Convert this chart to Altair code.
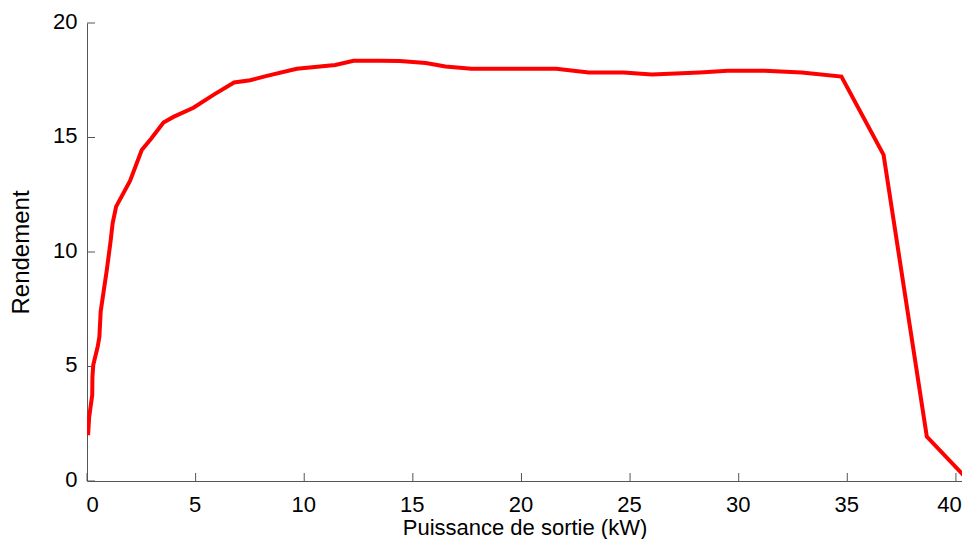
import altair as alt
import pandas as pd

# Data
puissance = [0.05, 0.1, 0.24, 0.25, 0.29, 0.5, 0.57, 0.63, 0.91, 1.09, 1.18, 1.34,
             1.98, 2.52, 2.95, 3.52, 3.98, 4.9, 5.82, 6.77, 7.51, 8.28, 9.66,
             11.43, 12.27, 13.5, 14.4, 15.6, 16.5, 17.7, 21.6, 23.1, 24.7,
             26.0, 28.2, 29.5, 31.2, 32.9, 34.73, 36.67, 38.66, 40.6]
rendement = [2.0, 2.8, 3.75, 4.55, 5.07, 5.9, 6.3, 7.4, 9.2, 10.5, 11.25, 11.98,
             13.1, 14.45, 14.95, 15.65, 15.9, 16.3, 16.86, 17.4, 17.5, 17.69, 18.0,
             18.17, 18.35, 18.35, 18.34, 18.25, 18.1, 18.0, 18.0, 17.84, 17.84,
             17.75, 17.84, 17.92, 17.92, 17.84, 17.66, 14.24, 1.94, 0.0]

x_ticks = [0, 5, 10, 15, 20, 25, 30, 35, 40]
y_ticks = [0, 5, 10, 15, 20]

X_MAX = 40.28
W, H = 875, 458
TICK = 8
AXIS_COLOR = "#555555"
FONT = "Liberation Sans"

df = pd.DataFrame({"x": puissance, "y": rendement})
xt = pd.DataFrame({"v": x_ticks})
yt = pd.DataFrame({"v": y_ticks})

xscale = alt.Scale(domain=[0, X_MAX], nice=False, zero=False)
yscale = alt.Scale(domain=[0, 20], nice=False)

line = alt.Chart(df).mark_line(color="#ff0000", strokeWidth=4, clip=True).encode(
    x=alt.X("x:Q", scale=xscale,
            axis=alt.Axis(title="Puissance de sortie (kW)", values=x_ticks,
                          ticks=False, grid=False, labelPadding=13,
                          labelOffset={"condition": {"test": "datum.value == 40", "value": -7},
                                       "value": -1},
                          titlePadding=2, titleFontSize=22)),
    y=alt.Y("y:Q", scale=yscale,
            axis=alt.Axis(title="Rendement", values=y_ticks, ticks=False,
                          grid=False, labelPadding=10, labelOffset=-2,
                          titlePadding=19, titleFontSize=24)),
)

xtick_marks = alt.Chart(xt).mark_rule(color=AXIS_COLOR, strokeWidth=1).encode(
    x=alt.X("v:Q", scale=xscale),
    y=alt.value(H),
    y2=alt.value(H - TICK),
)

ytick_marks = alt.Chart(yt).mark_rule(color=AXIS_COLOR, strokeWidth=1).encode(
    y=alt.Y("v:Q", scale=yscale),
    x=alt.value(0),
    x2=alt.value(TICK),
)

chart = alt.layer(xtick_marks, ytick_marks, line).properties(
    width=W, height=H,
    autosize="none",
    padding={"left": 79, "top": 15, "right": 0, "bottom": 58},
).configure_view(stroke=None).configure_axis(
    domainColor=AXIS_COLOR,
    domainWidth=1,
    labelFont=FONT,
    labelFontSize=22,
    labelColor="#000000",
    titleFont=FONT,
    titleFontWeight="normal",
    titleColor="#000000",
)

chart.save("out.html", embed_options={"renderer": "svg", "actions": False})
